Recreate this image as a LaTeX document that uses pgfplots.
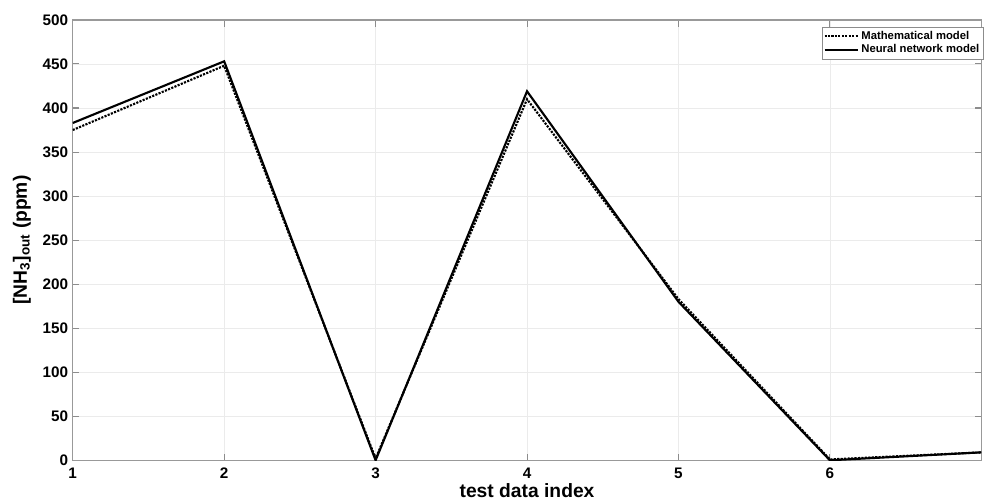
\documentclass[border=0pt]{standalone}
\usepackage{pgfplots}
\pgfplotsset{compat=1.18}
\usepackage{fontspec}
\setmainfont{Liberation Sans}
\begin{document}
\begin{tikzpicture}
\begin{axis}[
  at={(0,0)}, anchor=south west,
  scale only axis,
  width=684pt, height=331.5pt,
  xmin=1, xmax=7, ymin=0, ymax=500,
  xtick={1,2,3,4,5,6},
  ytick={0,50,...,500},
  grid=major,
  major grid style={draw=black!8, line width=0.6pt},
  axis line style={draw=black!40, line width=0.9pt},
  tick style={draw=black!45, line width=0.8pt},
  tick align=inside,
  major tick length=5pt,
  tick label style={font=\bfseries\fontsize{11.5}{12}\selectfont},
  /pgf/number format/assume math mode=true,
  xticklabel style={yshift=-2pt},
  xlabel={test data index},
  ylabel={[NH\textsubscript{3}]\textsubscript{out} (ppm)},
  label style={font=\bfseries\fontsize{14.5}{15}\selectfont},
  xlabel style={yshift=3pt},
  ylabel style={yshift=2pt},
  legend style={at={(1,1)}, anchor=north east, xshift=2pt, yshift=-5pt,
    font=\bfseries\fontsize{8.5}{9}\selectfont, draw=black!45, line width=0.6pt,
    inner sep=1.2pt, row sep=-1.5pt, cells={anchor=west}},
  legend cell align=left,
  legend image code/.code={\draw[#1, line width=1.5pt] (0pt,0pt) -- (25pt,0pt);},
]
\addplot[black, line width=1.6pt, densely dotted] coordinates {
  (1,375) (2,448) (3,2) (4,410) (5,183) (6,1) (7,9)};
\addlegendentry{Mathematical model}
\addplot[black, line width=1.6pt] coordinates {
  (1,383) (2,453) (3,0) (4,419) (5,180) (6,0) (7,9)};
\addlegendentry{Neural network model}
\end{axis}
\path[use as bounding box] (-54.75pt,-29.25pt) rectangle (683.25pt,346.5pt);
\end{tikzpicture}
\end{document}
